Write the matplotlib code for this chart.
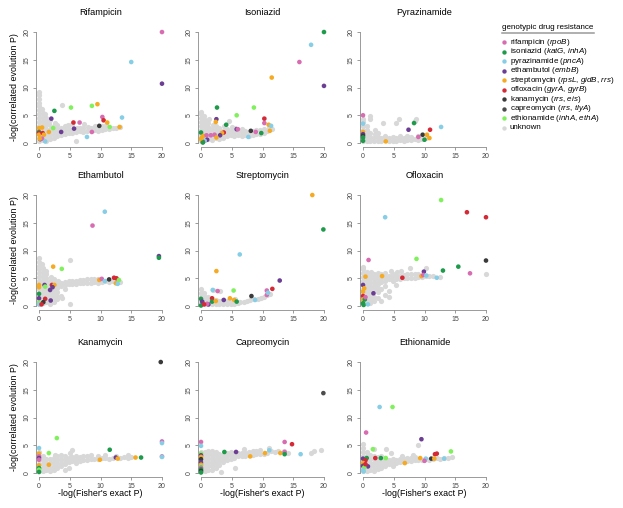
import matplotlib
matplotlib.use('Agg')
import matplotlib.pyplot as plt

plt.rcParams['font.family'] = ['Liberation Sans', 'DejaVu Sans']
plt.rcParams['mathtext.fontset'] = 'custom'
plt.rcParams['mathtext.it'] = 'Liberation Sans:italic'
plt.rcParams['mathtext.rm'] = 'Liberation Sans'

# ---------------- legend / categories ----------------
drug_codes = ['rif', 'inh', 'pza', 'emb', 'str', 'ofx', 'kan', 'cap', 'eth', 'unk']
drug_colors = ['#D86CB1', '#1E9A4B', '#86CEE6', '#6B3D93', '#F6AA22',
               '#D42A36', '#3A3A3A', '#4C4C4C', '#80F05C', '#D8D8D8']
legend_labels = [
    r'rifampicin ($\mathit{rpoB}$)',
    r'isoniazid ($\mathit{katG}$, $\mathit{inhA}$)',
    r'pyrazinamide ($\mathit{pncA}$)',
    r'ethambutol ($\mathit{embB}$)',
    r'streptomycin ($\mathit{rpsL}$, $\mathit{gidB}$, $\mathit{rrs}$)',
    r'ofloxacin ($\mathit{gyrA}$, $\mathit{gyrB}$)',
    r'kanamycin ($\mathit{rrs}$, $\mathit{eis}$)',
    r'capreomycin ($\mathit{rrs}$, $\mathit{tlyA}$)',
    r'ethionamide ($\mathit{inhA}$, $\mathit{ethA}$)',
    'unknown',
]
titles = ['Rifampicin', 'Isoniazid', 'Pyrazinamide',
          'Ethambutol', 'Streptomycin', 'Ofloxacin',
          'Kanamycin', 'Capreomycin', 'Ethionamide']
ticks = [0, 5, 10, 15, 20]

# ---------------- data (x = -log Fisher P, y = -log corr. evol. P) ----------------
rif_gray = [(0,0.3),(0,1.0),(0,1.7),(0,2.4),(0,3.1),(0,3.8),(0,4.5),(0,5.2),(0,5.9),(0,6.6),(0,7.3),(0,8.0),(0,8.6),(0,9.2),
            (0.6,0.5),(0.6,1.2),(0.6,1.9),(0.6,2.6),(0.6,3.3),(0.6,4.0),(0.6,4.7),(0.6,5.4),(0.5,6.1),
            (1.2,0.4),(1.2,1.1),(1.2,1.8),(1.2,2.5),(1.2,3.2),(1.1,3.9),(1.2,4.6),(1.0,5.3),
            (1.8,0.7),(1.8,1.4),(1.8,2.1),(1.9,2.8),(1.7,3.5),(1.8,4.1),
            (2.4,0.9),(2.4,1.6),(2.5,2.3),(2.4,3.0),(2.6,3.6),
            (3.0,1.2),(3.1,1.9),(3.0,2.6),(2.9,3.3),
            (3.6,1.4),(3.7,2.1),(3.6,2.8),(3.7,6.9),
            (4.2,1.6),(4.3,2.3),(4.2,3.0),
            (4.8,1.8),(4.9,2.5),(4.7,3.3),
            (5.4,1.9),(5.5,2.6),(5.3,3.4),
            (6.0,0.3),(6.0,2.0),(6.1,2.7),
            (6.6,2.1),(6.7,2.8),
            (7.2,2.0),(7.2,2.7),(7.3,3.4),
            (7.8,2.2),(7.9,2.9),(8.4,2.1),(8.5,2.8),
            (9.0,2.3),(9.1,3.0),(9.6,2.2),(9.7,2.9),
            (10.2,2.4),(10.3,3.1),(10.8,2.5),(10.9,3.2),
            (11.4,2.6),(12.0,2.7),(12.6,2.8),(13.2,2.9)]
rif_pts = [(20,20,'rif'),(20,10.7,'emb'),(15.0,14.6,'pza'),(2.5,5.8,'inh'),(5.2,6.4,'eth'),(8.6,6.7,'eth'),
           (9.5,7.0,'str'),(2.0,4.4,'emb'),(5.6,3.7,'ofx'),(6.6,3.7,'rif'),(10.3,4.7,'rif'),(10.5,4.1,'ofx'),
           (11.1,3.7,'str'),(13.5,4.6,'pza'),(9.8,3.1,'kan'),(11.5,2.9,'eth'),(13.1,2.9,'str'),(5.7,2.6,'emb'),
           (3.6,2.0,'emb'),(2.3,2.7,'eth'),(1.6,2.0,'str'),(8.6,2.0,'rif'),(7.8,1.1,'pza'),(0,2.7,'str'),
           (0.5,2.8,'str'),(0,2.0,'inh'),(0,1.8,'ofx'),(0,1.5,'str'),(0.6,1.8,'ofx'),(0.8,1.5,'str'),
           (0.2,0.7,'emb'),(0.5,0.8,'rif'),(1.0,0.3,'pza'),(0.1,0.8,'str')]

inh_gray = [(0,0.3),(0,1.0),(0,1.7),(0,2.4),(0,3.1),(0,3.8),(0,4.5),(0,5.2),(0,5.6),
            (0.6,0.6),(0.6,1.3),(0.6,2.0),(0.6,2.7),(0.6,3.4),(0.6,4.1),(0.5,4.8),
            (1.2,0.8),(1.2,1.5),(1.2,2.2),(1.2,2.9),(1.2,3.6),(1.3,4.3),
            (1.8,0.5),(1.8,1.2),(1.8,1.9),(1.8,2.6),(1.9,3.3),
            (2.4,0.9),(2.4,1.6),(2.5,2.3),(2.4,3.0),
            (3.0,0.7),(3.0,1.4),(3.1,2.1),(3.0,2.8),
            (3.6,1.0),(3.6,1.7),(3.7,2.4),(3.8,3.1),
            (4.2,1.2),(4.2,1.9),(4.3,2.6),(4.6,3.9),
            (4.8,1.4),(4.8,2.1),(5.0,2.9),
            (5.4,1.3),(5.4,2.0),(5.5,2.7),
            (6.0,1.4),(6.0,2.1),(6.6,1.3),(6.6,2.0),(6.7,2.6),
            (7.2,1.4),(7.2,2.1),(7.8,1.3),(7.8,2.0),
            (8.4,1.5),(8.4,2.2),(9.0,1.6),(9.0,2.3),
            (9.6,1.7),(9.6,2.4),(10.2,1.9),(10.3,2.6),
            (10.8,2.1),(11.0,2.8),(11.6,2.5)]
inh_pts = [(0,1.9,'inh'),(2.6,6.4,'inh'),(4.1,3.3,'inh'),(5.8,5.0,'eth'),(8.6,6.4,'eth'),(11.5,11.8,'str'),
           (10.3,4.4,'ofx'),(10.3,3.6,'rif'),(11.0,3.3,'str'),(11.4,3.1,'pza'),(11.2,2.2,'str'),(8.9,2.0,'rif'),
           (9.8,1.8,'inh'),(8.1,2.2,'kan'),(7.7,1.1,'pza'),(5.8,2.5,'emb'),(6.0,2.5,'rif'),(2.5,4.3,'emb'),
           (2.4,3.8,'str'),(3.7,1.9,'ofx'),(3.4,1.8,'str'),(3.1,1.4,'emb'),(2.2,1.5,'rif'),(1.6,1.4,'rif'),
           (2.5,1.0,'str'),(0.1,1.0,'str'),(0.4,1.3,'str'),(0.9,1.4,'rif'),(1.0,0.6,'emb'),(0.6,0.4,'pza'),
           (0.3,0.2,'ofx'),(0,0.7,'str'),(0.3,0.1,'inh'),(16.0,14.6,'rif'),(17.9,17.7,'pza'),(20,20,'inh'),
           (20,10.3,'emb')]

pza_gray = [(0,0.3),(0,1.0),(0,1.7),(0,2.4),(0,3.1),(0,3.8),(0,4.4),
            (0.6,0.3),(0.6,1.0),(0.6,1.7),(0.6,2.4),(0.7,3.0),
            (1.2,0.4),(1.2,1.1),(1.2,1.8),(1.1,4.3),(1.2,4.8),
            (1.8,0.3),(1.8,1.0),(1.9,1.7),(2.0,2.3),
            (2.4,0.4),(2.4,1.1),(2.5,1.8),
            (3.0,0.3),(3.0,1.0),(3.2,3.6),(3.6,0.5),(3.6,1.2),
            (4.2,0.3),(4.2,1.0),(4.8,0.4),(4.8,1.1),
            (5.4,0.3),(5.4,1.0),(5.4,3.6),(5.8,4.4),
            (6.0,0.5),(6.0,1.2),(6.6,0.4),(6.6,1.0),
            (7.2,0.6),(7.2,1.3),(7.8,0.5),(7.8,1.1),
            (8.4,0.7),(8.4,4.0),(8.6,4.3),
            (9.0,0.6),(9.0,1.3),(9.6,0.8),(10.2,1.0)]
pza_pts = [(0,5.0,'rif'),(0,3.5,'pza'),(0,2.0,'str'),(0,1.6,'emb'),(0,1.3,'kan'),(0,1.0,'inh'),(0,0.4,'inh'),
           (3.7,0.3,'str'),(7.4,2.4,'emb'),(8.3,3.6,'inh'),(9.0,1.1,'rif'),(9.7,1.5,'kan'),(10.4,1.5,'str'),
           (10.0,0.6,'inh'),(10.8,0.9,'str'),(10.9,2.4,'ofx'),(12.7,2.9,'pza')]

emb_gray = [(0,0.3),(0,1.0),(0,1.7),(0,2.4),(0,3.1),(0,3.8),(0,4.5),(0,5.2),(0,5.9),(0,6.6),(0,7.3),(0,8.0),(0,8.7),
            (0.6,0.5),(0.6,1.2),(0.6,1.9),(0.6,2.6),(0.6,3.3),(0.6,4.0),(0.6,4.7),(0.6,5.4),(0.6,6.1),(0.6,6.8),(0.5,7.5),
            (1.2,0.8),(1.2,1.5),(1.2,2.2),(1.2,2.9),(1.2,3.6),(1.2,4.3),(1.2,5.0),(1.2,5.7),(1.1,6.4),
            (1.8,0.4),(1.8,1.1),(1.8,1.8),(1.8,2.5),(1.8,3.2),(1.8,3.9),(1.8,4.6),(1.9,5.3),
            (2.4,0.7),(2.4,1.4),(2.4,2.1),(2.4,2.8),(2.4,3.5),(2.4,4.2),(2.5,4.9),
            (3.0,1.2),(3.0,1.9),(3.0,2.6),(3.0,3.3),(3.0,4.0),(3.1,4.6),
            (3.6,1.8),(3.6,3.6),(3.6,4.2),(3.8,1.5),
            (4.2,3.0),(4.2,3.8),(4.2,4.4),(4.8,3.9),(4.8,4.5),(5.0,8.3),(5.0,0.3),
            (5.4,4.0),(5.4,4.6),(6.0,4.0),(6.0,4.6),(6.6,4.1),(6.6,4.7),
            (7.2,4.1),(7.2,4.7),(7.8,4.2),(7.8,4.8),(8.4,4.2),(8.4,4.8),
            (9.0,4.3),(9.0,4.9),(9.6,4.2),(9.6,4.8),
            (10.2,4.4),(10.8,4.5),(11.4,4.4),(12.0,4.6),(12.6,4.5),(13.2,4.4)]
emb_pts = [(8.7,14.5,'rif'),(10.7,17.0,'pza'),(19.5,9.0,'emb'),(19.5,8.7,'inh'),(2.3,7.1,'str'),(3.7,6.7,'eth'),
           (0,3.8,'str'),(0,3.4,'str'),(0,2.2,'inh'),(0,1.4,'emb'),(0,0.6,'eth'),(0,0.3,'pza'),(0.9,3.8,'emb'),
           (1.0,3.5,'eth'),(2.1,3.8,'ofx'),(2.5,3.8,'str'),(2.2,3.4,'emb'),(1.8,2.9,'emb'),(1.9,1.0,'emb'),
           (1.0,1.3,'ofx'),(0.7,0.7,'kan'),(0.4,0.3,'ofx'),(9.8,4.7,'str'),(10.2,4.9,'rif'),(10.7,4.5,'pza'),
           (11.4,4.8,'kan'),(12.2,5.1,'ofx'),(12.6,5.0,'ofx'),(13.0,4.7,'eth'),(12.5,4.1,'str'),(12.8,4.0,'pza')]

str_gray = [(0,0.3),(0,1.0),(0,1.7),(0,2.4),(0,3.1),
            (0.6,0.3),(0.6,1.0),(0.6,1.7),(0.5,2.4),
            (1.2,0.4),(1.2,1.1),(1.2,1.7),(1.8,0.3),(1.8,1.0),(1.9,2.9),
            (2.4,0.4),(2.4,1.1),(3.0,0.3),(3.0,1.0),(3.1,2.7),
            (3.6,0.4),(3.6,1.1),(4.2,0.3),(4.2,1.0),(4.8,0.4),(4.8,1.1),
            (5.4,0.4),(5.6,1.2),(6.0,0.5),(6.4,0.7),(7.0,0.8),(7.5,0.9),(8.0,1.1),
            (8.6,1.2),(9.2,1.3),(9.8,1.5),(10.3,1.6),(10.8,2.0),(11.2,2.2)]
str_pts = [(18.1,20,'str'),(19.9,13.8,'inh'),(6.3,9.3,'pza'),(2.5,6.3,'str'),(5.3,2.8,'eth'),(2.7,2.7,'rif'),
           (1.9,2.9,'pza'),(12.8,4.6,'emb'),(11.6,3.1,'ofx'),(10.7,2.8,'rif'),(10.7,2.0,'rif'),(10.9,2.4,'pza'),
           (8.2,1.8,'kan'),(8.8,1.1,'pza'),(4.7,1.4,'str'),(5.4,1.1,'str'),(5.8,0.8,'inh'),(3.7,1.1,'emb'),
           (1.8,1.4,'ofx'),(1.8,0.8,'inh'),(2.4,0.9,'str'),(1.2,0.3,'emb'),(1.0,0.4,'rif'),(0,1.3,'inh'),
           (0,0.1,'inh'),(0.2,0.8,'emb'),(0.5,0.3,'ofx')]

ofx_gray = [(0,0.3),(0,1.0),(0,1.7),(0,2.4),(0,3.1),(0,3.8),(0,4.5),(0,5.2),(0,5.9),(0,6.6),(0,7.0),
            (0.6,0.5),(0.6,1.2),(0.6,1.9),(0.6,2.6),(0.6,3.3),(0.6,4.0),(0.6,4.7),(0.6,5.4),(0.6,6.1),
            (1.2,0.6),(1.2,1.3),(1.2,2.0),(1.2,2.7),(1.2,3.4),(1.2,4.1),(1.2,4.8),(1.2,5.5),(1.3,6.2),
            (1.8,1.0),(1.8,1.7),(1.8,3.0),(1.8,3.7),(1.8,4.4),(1.8,5.1),(1.8,5.8),
            (2.4,1.4),(2.4,2.6),(2.4,3.3),(2.4,4.0),(2.4,4.7),(2.4,5.4),(2.4,6.0),
            (3.0,1.0),(3.0,3.0),(3.0,4.3),(3.0,5.0),(3.0,5.7),
            (3.6,2.0),(3.6,3.6),(3.6,4.6),(3.6,5.3),(3.6,5.9),
            (4.2,1.6),(4.2,2.8),(4.2,4.8),(4.2,5.5),(4.5,6.3),
            (4.8,4.5),(4.8,5.1),(4.8,5.7),(5.4,3.8),(5.4,4.8),(5.4,5.4),(5.6,6.1),
            (6.0,4.9),(6.0,5.5),(6.2,6.3),(6.6,5.0),(6.6,5.6),
            (7.2,5.0),(7.2,5.7),(7.6,6.8),(7.8,5.1),(7.8,5.7),
            (8.4,5.1),(8.4,5.8),(9.0,5.2),(9.0,5.8),(9.6,5.3),(10.3,6.9),
            (10.2,5.4),(10.8,5.5),(11.4,5.4),(12.6,5.3),(20,5.7)]
ofx_pts = [(12.7,19.1,'eth'),(3.6,16.0,'pza'),(16.9,16.9,'ofx'),(20,16.0,'ofx'),(0.9,8.3,'rif'),(8.7,8.5,'eth'),
           (13.0,6.4,'inh'),(15.5,7.1,'inh'),(20,8.2,'kan'),(17.4,5.9,'rif'),(9.9,6.2,'emb'),(9.5,5.4,'str'),
           (9.8,5.6,'rif'),(10.3,5.5,'pza'),(12.0,5.1,'pza'),(6.4,5.1,'ofx'),(3.1,5.4,'str'),(0.4,5.3,'str'),
           (0,3.8,'emb'),(0,2.6,'str'),(0,1.8,'ofx'),(0,1.2,'str'),(0,0.5,'inh'),(0.1,0.2,'inh'),(0.8,0.3,'pza'),
           (0.3,1.2,'inh'),(0.4,1.6,'rif'),(1.7,2.3,'emb'),(0.2,3.2,'str')]

kan_gray = [(0,0.3),(0,1.0),(0,1.7),(0,2.4),(0,3.1),(0,3.8),
            (0.6,0.3),(0.6,1.0),(0.6,1.7),(0.6,2.4),(0.6,3.1),
            (1.2,0.5),(1.2,1.2),(1.2,1.9),(1.2,2.6),(1.8,0.3),(1.8,1.0),(1.8,1.9),(1.8,2.6),
            (2.4,0.6),(2.4,1.3),(2.4,2.0),(2.4,2.7),(2.6,3.2),
            (3.0,0.9),(3.0,1.6),(3.0,2.3),(3.0,3.0),(3.6,1.2),(3.6,1.9),(3.6,2.6),(3.5,3.3),
            (4.2,0.6),(4.2,1.6),(4.2,2.3),(4.2,3.0),(4.8,0.9),(4.8,2.0),(4.8,2.7),(5.1,3.6),(5.4,4.2),
            (5.4,2.2),(5.4,2.9),(6.0,1.8),(6.0,2.5),(6.0,3.1),(6.6,2.2),(6.6,2.9),
            (7.2,2.3),(7.2,3.0),(7.8,2.4),(7.8,3.1),(8.4,2.5),(8.5,3.3),
            (9.0,2.6),(9.6,2.6),(9.6,3.1),(10.2,2.7),(10.8,2.7),(10.8,3.2),
            (11.4,2.6),(12.0,2.8),(12.6,3.1),(13.2,2.8),(13.8,2.9),(14.4,2.7),(14.5,3.2),(15.0,2.9)]
kan_pts = [(19.8,20,'kan'),(20,5.7,'rif'),(20,5.4,'pza'),(20,3.0,'rif'),(20,2.9,'pza'),(2.9,6.3,'eth'),
           (1.6,3.6,'eth'),(11.5,4.2,'inh'),(16.6,2.8,'inh'),(15.7,2.8,'str'),(12.5,2.8,'emb'),(12.8,2.6,'str'),
           (9.9,2.4,'str'),(1.6,1.5,'str'),(0,4.5,'pza'),(0,3.5,'str'),(0,3.0,'rif'),(0,2.7,'emb'),(0,2.4,'rif'),
           (0,1.4,'str'),(0,0.9,'inh'),(0,0.6,'eth'),(0,0.2,'inh')]

cap_gray = [(0,0.3),(0,1.0),(0,1.7),(0,2.4),(0,3.1),(0,3.8),
            (0.6,0.3),(0.6,1.0),(0.6,1.7),(0.6,2.4),(0.6,3.1),(0.6,3.8),
            (1.2,0.5),(1.2,1.2),(1.2,1.9),(1.2,2.6),(1.2,3.3),(1.2,4.0),
            (1.8,0.6),(1.8,1.3),(1.8,2.0),(1.8,2.7),(1.8,3.4),(1.8,4.0),
            (2.4,1.0),(2.4,1.7),(2.4,2.4),(2.4,3.1),(2.4,3.8),
            (3.0,1.4),(3.0,2.1),(3.0,2.8),(3.0,3.5),(3.3,0.2),
            (3.6,2.0),(3.6,2.7),(3.6,3.3),(4.2,2.3),(4.2,3.0),(4.2,3.6),
            (4.8,2.6),(4.8,3.2),(4.8,3.8),(5.4,2.8),(5.4,3.4),(5.6,0.9),
            (6.0,3.0),(6.0,3.6),(6.6,3.1),(6.6,3.7),(7.0,4.4),
            (7.2,3.0),(7.2,3.6),(7.8,3.2),(7.8,3.8),(8.4,3.3),(8.4,3.9),
            (9.0,3.4),(9.0,4.0),(9.6,3.5),(9.6,4.1),
            (10.2,3.5),(10.8,3.7),(11.0,4.5),(11.4,3.9),(12.0,3.8),(12.6,4.0),(13.5,3.9),(14.1,3.6),
            (17.9,3.6),(18.4,3.9),(19.5,4.2)]
cap_pts = [(19.9,14.4,'cap'),(0,5.6,'rif'),(0,4.9,'pza'),(0,3.5,'eth'),(0,3.2,'emb'),(0,2.9,'str'),(0,2.5,'kan'),
           (0,1.9,'emb'),(0,1.5,'str'),(0,1.2,'eth'),(0,1.0,'rif'),(0,0.7,'inh'),(0,0.4,'kan'),(0,0.1,'inh'),
           (3.8,3.8,'inh'),(5.7,3.8,'emb'),(8.0,3.0,'str'),(10.4,3.6,'str'),(11.1,4.1,'pza'),(12.9,3.6,'str'),
           (13.6,5.6,'rif'),(14.8,5.2,'ofx'),(13.6,3.8,'rif'),(13.6,3.4,'inh'),(16.2,3.4,'pza')]

eth_gray = [(0,0.3),(0,1.0),(0,1.7),(0,2.4),(0,3.1),(0,3.8),(0,4.5),(0,5.3),
            (0.6,0.3),(0.6,1.0),(0.6,1.7),(0.6,2.4),(0.6,3.1),(0.6,3.8),
            (1.2,0.5),(1.2,1.2),(1.2,1.9),(1.2,2.6),(1.2,3.3),
            (1.8,0.4),(1.8,1.1),(1.8,1.8),(1.8,2.5),(1.8,3.1),(1.8,4.4),
            (2.4,0.8),(2.4,1.5),(2.4,2.2),(2.4,2.9),(3.0,1.0),(3.0,1.7),(3.0,2.4),(3.0,3.1),
            (3.6,1.3),(3.6,2.0),(3.6,2.7),(3.8,4.3),(4.2,1.6),(4.2,2.3),(4.5,3.6),
            (4.8,1.3),(4.8,2.0),(4.8,2.6),(5.4,1.8),(5.4,2.4),
            (6.0,2.0),(6.0,2.6),(6.3,3.0),(6.6,2.0),(6.6,2.6),
            (7.2,2.1),(7.2,2.7),(7.8,2.2),(7.8,2.8),(8.2,3.3),(8.4,2.3),(8.4,2.9),
            (9.0,2.3),(9.0,5.0),(9.6,2.4),(10.2,2.5),(10.8,2.4),(11.4,2.6),(12.0,2.7),
            (12.6,2.6),(13.2,2.8),(13.8,2.7),(14.4,2.9)]
eth_pts = [(2.7,11.9,'pza'),(4.8,11.9,'eth'),(0.5,7.3,'rif'),(9.5,6.1,'emb'),(1.6,4.3,'eth'),(14.3,3.9,'eth'),
           (12.0,3.5,'ofx'),(11.7,3.4,'ofx'),(0,2.6,'emb'),(0.6,2.7,'inh'),(0.4,2.3,'ofx'),(2.0,2.7,'ofx'),
           (2.9,2.7,'inh'),(3.7,2.7,'eth'),(9.3,2.7,'str'),(10.2,2.6,'pza'),(11.1,2.6,'kan'),(11.6,2.6,'str'),
           (13.2,2.6,'pza'),(10.0,2.2,'rif'),(6.8,1.8,'str'),(0,1.8,'str'),(0,1.3,'emb'),(0.8,1.2,'emb'),
           (0.2,1.0,'eth'),(0,0.5,'pza'),(0.1,0.3,'pza'),(0.4,1.6,'ofx')]

gray_sets = [rif_gray, inh_gray, pza_gray, emb_gray, str_gray, ofx_gray, kan_gray, cap_gray, eth_gray]
point_sets = [rif_pts, inh_pts, pza_pts, emb_pts, str_pts, ofx_pts, kan_pts, cap_pts, eth_pts]

# ---------------- figure ----------------
W, H = 623, 508
fig = plt.figure(figsize=(W / 100, H / 100), dpi=100)

color_of = dict(zip(drug_codes, drug_colors))
axis_gray = '#8A8A8A'

col_left = [34.1, 196.1, 358.1]     # pixel position of the axes box
row_top = [27.6, 190.6, 357.6]
box_w, box_h = 132.8, 119.9

for i in range(9):
    r, c = divmod(i, 3)
    ax = fig.add_axes([col_left[c] / W, 1 - (row_top[r] + box_h) / H, box_w / W, box_h / H])
    ax.set_xlim(-0.8, 20.8)
    ax.set_ylim(-0.8, 20.8)

    gx = [p[0] for p in gray_sets[i]]
    gy = [p[1] for p in gray_sets[i]]
    ax.scatter(gx, gy, s=14, c=color_of['unk'], linewidths=0, zorder=2)

    px = [p[0] for p in point_sets[i]]
    py = [p[1] for p in point_sets[i]]
    pc = [color_of[p[2]] for p in point_sets[i]]
    ax.scatter(px, py, s=11, c=pc, linewidths=0, zorder=3, clip_on=False)

    for side in ['top', 'right']:
        ax.spines[side].set_visible(False)
    ax.spines['left'].set_position(('data', -0.45))
    ax.spines['bottom'].set_position(('data', -0.75))
    for side in ['left', 'bottom']:
        ax.spines[side].set_bounds(0, 20)
        ax.spines[side].set_color(axis_gray)
        ax.spines[side].set_linewidth(0.6)
    ax.set_xticks(ticks)
    ax.set_yticks(ticks)
    ax.tick_params(length=2.5, width=0.6, color=axis_gray, labelsize=5,
                   labelcolor='#444444', pad=1.5)
    ax.tick_params(axis='y', labelrotation=90)
    for lab in ax.get_yticklabels():
        lab.set_va('center')
    ax.patch.set_alpha(0)

    cx = (col_left[c] + 0.8 / 21.6 * box_w + 10 / 21.6 * box_w) / W
    fig.text(cx, 1 - (row_top[r] - 15.5) / H, titles[i], ha='center', va='center', fontsize=6.6)

    if c == 0:
        fig.text(15 / W, 1 - (row_top[r] + box_h / 2) / H, '-log(correlated evolution P)',
                 rotation=90, ha='center', va='center', fontsize=6.4)
    if r == 2:
        fig.text(cx, 1 - 494 / H, "-log(Fisher's exact P)", ha='center', va='center', fontsize=6.4)

# ---------------- legend ----------------
lax = fig.add_axes([0, 0, 1, 1])
lax.set_xlim(0, W)
lax.set_ylim(H, 0)
lax.axis('off')
lax.text(502, 27.5, 'genotypic drug resistance', ha='left', va='center', fontsize=5.8)
lax.plot([502, 594], [33.3, 33.3], color='#9A9A9A', lw=1.1)
for k in range(len(drug_codes)):
    yk = 42.3 + k * 9.52
    lax.scatter([504], [yk], s=10, c=drug_colors[k], linewidths=0)
    lax.text(510, yk, legend_labels[k], ha='left', va='center', fontsize=5.8)

fig.savefig('out.png', dpi=100)
